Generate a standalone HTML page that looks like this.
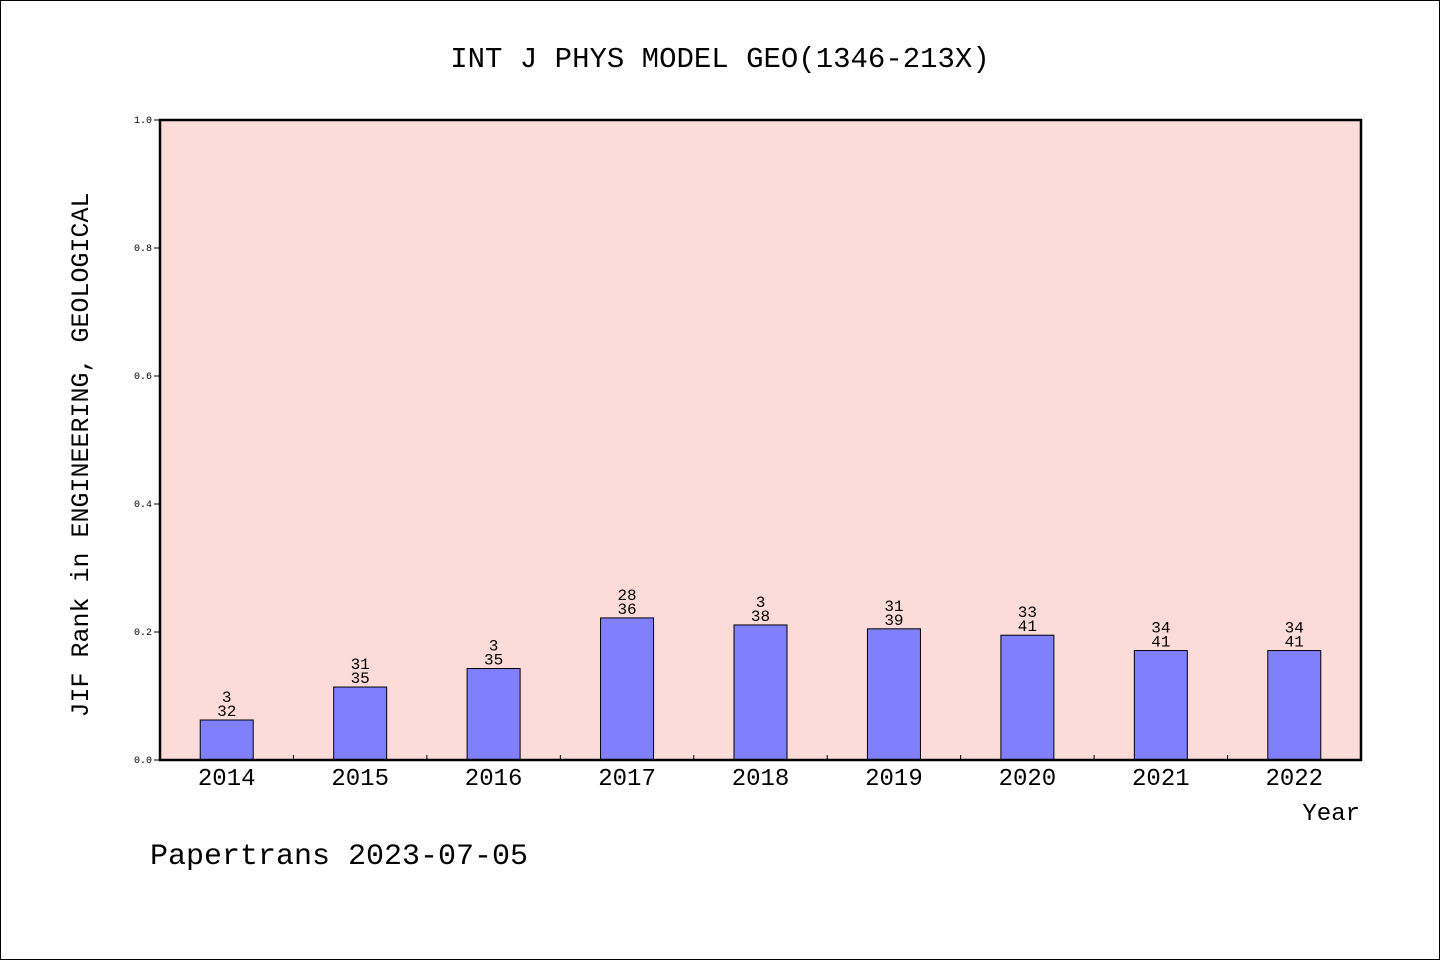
<!DOCTYPE html>
<html><head><meta charset="utf-8"><style>
html,body{margin:0;padding:0;background:#fff}
svg text{font-family:"Liberation Mono","WenQuanYi Zen Hei",monospace;fill:#000}
</style></head><body>
<svg width="1440" height="960" xmlns="http://www.w3.org/2000/svg">
<rect x="0.5" y="0.5" width="1439" height="959" fill="#fff" stroke="#000"/>
<text x="720" y="67" font-size="29" text-anchor="middle">INT J PHYS MODEL GEO(1346-213X)</text>
<rect x="160" y="120" width="1201" height="640" fill="#fddbd8"/>
<g id="marks"></g>
<rect x="160" y="120" width="1201" height="640" fill="none" stroke="#000" stroke-width="2.5"/>
<text transform="translate(88,455) rotate(-90)" font-size="25" text-anchor="middle">JIF Rank in ENGINEERING, GEOLOGICAL</text>
<text x="1360" y="820" font-size="24" text-anchor="end">Year</text>
<text x="150" y="864" font-size="30">Papertrans 2023-07-05</text>
</svg>
<script>
const years=["2014","2015","2016","2017","2018","2019","2020","2021","2022"];
const values=[0.0625,0.114,0.143,0.222,0.211,0.205,0.195,0.171,0.171];
const rankLabels=["3","31","3","28","3","31","33","34","34"];
const totalLabels=["32","35","35","36","38","39","41","41","41"];
const yTicks=[0,0.2,0.4,0.6,0.8,1.0];
const yTickLabels=["0.0","0.2","0.4","0.6","0.8","1.0"];
const NS="http://www.w3.org/2000/svg";
const L=160,R=1361,T=120,B=760;
const band=(R-L)/years.length;
const x=i=>L+band*(i+0.5);
const y=v=>B-(B-T)*v;
const g=document.getElementById('marks');
function mk(t,a,p){const e=document.createElementNS(NS,t);for(const k in a)e.setAttribute(k,a[k]);(p||g).appendChild(e);return e;}
yTicks.forEach((v,i)=>{
 const l=mk('line',{x1:L-6,x2:L,y1:y(v),y2:y(v),stroke:'#000'});
 
 
 const t=mk('text',{x:L-8,y:y(v)+3,'font-size':10,'text-anchor':'end'});
 t.textContent=yTickLabels[i];
 
 
});
years.forEach((yr,i)=>{
 const bw=53;
 const r=mk('rect',{x:x(i)-bw/2,y:y(values[i]),width:bw,height:B-y(values[i]),fill:'#8080ff',stroke:'#000','stroke-width':1});
 
 
 const t1=mk('text',{x:x(i),y:y(values[i])-18,'font-size':16,'text-anchor':'middle'});
 t1.textContent=rankLabels[i];
 
 
 const t2=mk('text',{x:x(i),y:y(values[i])-4,'font-size':16,'text-anchor':'middle'});
 t2.textContent=totalLabels[i];
 
 
 const xl=mk('text',{x:x(i),y:B+25,'font-size':24,'text-anchor':'middle'});
 xl.textContent=yr;
 
 
 if(i>0){
  const tk=mk('line',{x1:L+band*i,x2:L+band*i,y1:B,y2:B-5,stroke:'#000'});
  
  
 }
});
</script>
</body></html>
